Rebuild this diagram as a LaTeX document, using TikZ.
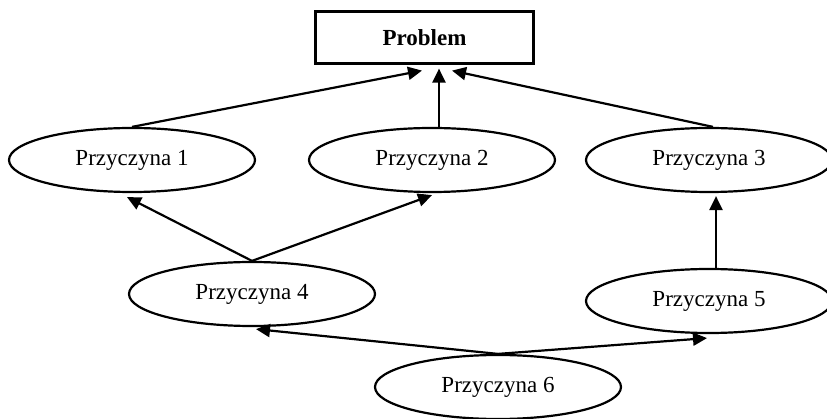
\documentclass[tikz,border=0pt]{standalone}
\usepackage{fontspec}
\setmainfont{Liberation Serif}
\usetikzlibrary{arrows.meta}
\usetikzlibrary{shapes.geometric}
\usetikzlibrary{positioning}

\begin{document}
\begin{tikzpicture}[x=1pt, y=-1pt,
    cause/.style={draw, ellipse, line width=2.2pt, minimum width=246pt, minimum height=64pt, inner sep=0pt, font=\fontsize{23}{27}\selectfont},
    problembox/.style={draw, rectangle, line width=2.2pt, minimum width=218pt, minimum height=52pt, inner sep=0pt, font=\fontsize{23}{27}\selectfont\bfseries},
    arr/.style={line width=2.2pt, -{Triangle[length=14pt, width=13pt]}}]
      \useasboundingbox (0, 0) rectangle (827, 419);

      \node [problembox] (prob) at (424.5, 37.5) {Problem};

      \node [cause] (p1) at (132, 160) {Przyczyna 1};
      \node [cause] (p2) at (432, 160) {Przyczyna 2};
      \node [cause] (p3) at (709, 160) {Przyczyna 3};
      \node [cause] (p4) at (252, 294) {Przyczyna 4};
      \node [cause] (p5) at (709, 301) {Przyczyna 5};
      \node [cause] (p6) at (498, 387) {Przyczyna 6};

      \draw [arr] (p1.north) -- ([xshift=-2.5pt, yshift=-6pt]prob.south);
      \draw [arr] ([xshift=7pt]p2.north) -- ([xshift=14.5pt, yshift=-4pt]prob.south);
      \draw [arr] ([xshift=4pt]p3.north) -- ([xshift=27.5pt, yshift=-6pt]prob.south);

      \draw [arr] (p4.north) -- ([xshift=-5pt, yshift=-4pt]p1.south);
      \draw [arr] (p4.north) -- ([yshift=-2pt]p2.south);
      \draw [arr] ([xshift=7pt]p5.north) -- ([xshift=7pt, yshift=-3pt]p3.south);

      \draw [arr] (p6.north) -- ([xshift=4pt, yshift=-2pt]p4.south);
      \draw [arr] (p6.north) -- ([xshift=-2pt, yshift=-4pt]p5.south);
    \end{tikzpicture}
\end{document}
